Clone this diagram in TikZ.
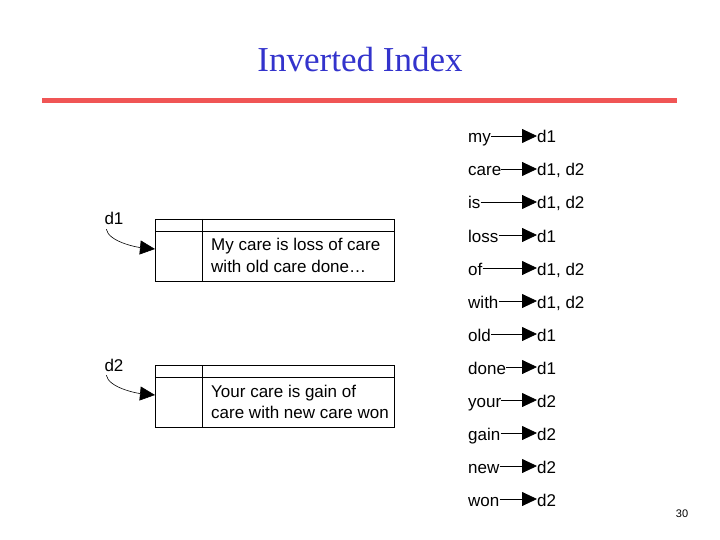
\documentclass[tikz,border=0pt]{standalone}
\usepackage{fontspec}
\setmainfont{Liberation Sans}
\newfontfamily\titlefont{Liberation Serif}
\usetikzlibrary{arrows.meta}
\definecolor{titleblue}{RGB}{51,51,204}
\definecolor{rulered}{RGB}{240,85,85}
\begin{document}
\begin{tikzpicture}[x=1pt,y=-1pt,
  txt/.style={font=\fontsize{17}{19}\selectfont,inner sep=0pt,text height=12pt,text depth=4pt},
  word/.style={txt,anchor=west},
  post/.style={txt,anchor=west},
  ptr/.style={-{Triangle[length=15,width=14]},line width=0.8pt},
  box/.style={draw,line width=0.8pt}]
\useasboundingbox (0,0) rectangle (720,540);
\node[font=\titlefont\fontsize{35}{40}\selectfont,text=titleblue] (title) at (360,60) {Inverted Index};
\draw[rulered,line width=5pt] (42,101) coordinate (r1) -- (677,101) coordinate (r2);
% documents
\foreach \n/\y/\la/\lb in {1/219/My care is loss of care/with old care done\ldots, 2/365/Your care is gain of/care with new care won}{
  \draw[box] (155,\y) rectangle (394,\y+62);
  \draw[line width=0.8pt] (155,\y+12) -- (394,\y+12);
  \draw[line width=0.8pt] (202,\y) -- (202,\y+62);
  \node[word] (t\n a) at (211,\y+28) {\la};
  \node[word] (t\n b) at (211,\y+49) {\lb};
  \node[txt] (d\n) at (114,\y+2) {d\n};
  \coordinate (e\n) at (155,\y+30);
  \draw[ptr,line width=0.6pt] (d\n.south west) ++(2,0) .. controls +(2,12) and +(-20,-2) .. (e\n);
}
% index
\foreach \w/\p [count=\i from 0] in {my/d1,care/{d1, d2},is/{d1, d2},loss/d1,of/{d1, d2},with/{d1, d2},old/d1,done/d1,your/d2,gain/d2,new/d2,won/d2}{
  \node[word] (w\i) at (468,139+33*\i) {\w};
  \node[post] (p\i) at (537,139+33*\i) {\p};
  \draw[ptr] ([yshift=3pt]w\i.east) -- ([yshift=3pt]p\i.west);
}
\node[font=\fontsize{11}{13}\selectfont] (pg) at (682,514) {30};
\end{tikzpicture}
\end{document}
